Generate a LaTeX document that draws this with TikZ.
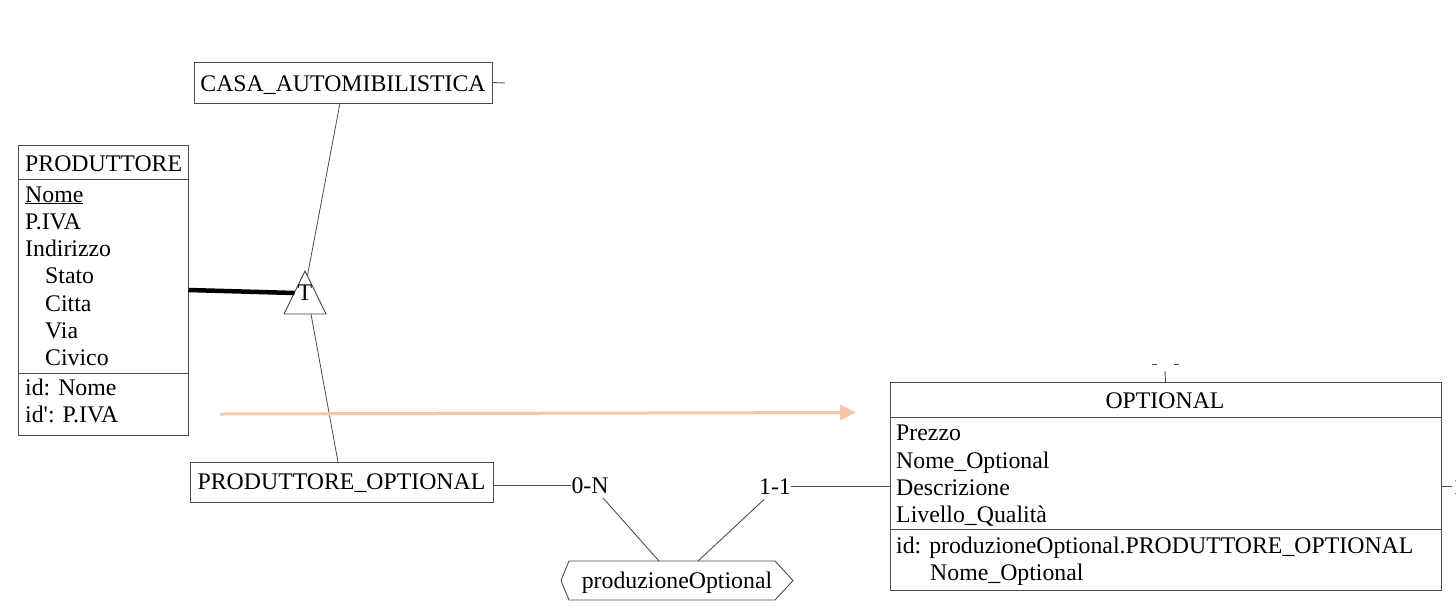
\documentclass[tikz,border=0pt]{standalone}
\usepackage{fontspec}
\setmainfont{Liberation Serif}
\usetikzlibrary{arrows.meta,calc}
\definecolor{salmon}{RGB}{248,196,170}
\newcommand{\straightq}{{\addfontfeatures{Ligatures=TeXOff}'}}
\begin{document}
\begin{tikzpicture}[x=1pt,y=-1pt,
  font=\fontsize{23.8}{27.3}\selectfont,
  box/.style={draw=black!70, line width=0.9pt, inner sep=0pt, outer sep=0pt, anchor=north west},
  ln/.style={draw=black!70, line width=0.9pt},
  lbl/.style={anchor=base west, inner sep=0pt},
  ctr/.style={anchor=base, inner sep=0pt}]
\useasboundingbox (0,0) rectangle (1456,614);

% CASA_AUTOMIBILISTICA
\node[box, minimum width=298pt, minimum height=41pt] (casa) at (194,62) {};
\node[ctr] (casaT) at (343,91) {CASA\_AUTOMIBILISTICA};
\coordinate (casaE) at (505,83);
\draw[ln] (casa.east) -- (casaE);

% PRODUTTORE
\node[box, minimum width=170pt, minimum height=34pt] (prodT) at (18.5,145) {};
\node[box, minimum width=170pt, minimum height=194pt] (prodA) at (18.5,179) {};
\node[box, minimum width=170pt, minimum height=62pt] (prodI) at (18.5,373) {};
\node[lbl] (pt) at (25,171.5) {PRODUTTORE};
\node[lbl] (pa1) at (25,202) {\underline{Nome}};
\node[lbl] (pa2) at (25,229.3) {P.IVA};
\node[lbl] (pa3) at (25,256.6) {Indirizzo};
\node[lbl] (pa4) at (45,283.9) {Stato};
\node[lbl] (pa5) at (45,311.2) {Citta};
\node[lbl] (pa6) at (45,338.5) {Via};
\node[lbl] (pa7) at (45,365.8) {Civico};
\node[lbl] (pi1) at (25,395.5) {id: Nome};
\node[lbl] (pi2) at (25,422.8) {id\straightq: P.IVA};

% PRODUTTORE_OPTIONAL
\node[box, minimum width=303pt, minimum height=40pt] (po) at (190,462) {};
\node[ctr] (poT) at (341.5,489) {PRODUTTORE\_OPTIONAL};

% ISA lines and triangle
\coordinate (tA) at (305,271);
\coordinate (tL) at (284,314);
\coordinate (tR) at (326,314);
\coordinate (tIn) at (307,278);
\coordinate (tB) at (311,314);
\draw[ln, line width=0.8pt] (340,103) -- (tIn);
\draw[ln, line width=0.8pt] (tB) -- (338,462);
\draw[draw=black!75, line width=0.9pt, fill=white] (tA) -- (tL) -- (tR) -- cycle;
\node[ctr] (tri) at (305,300) {T};
\coordinate (thL) at (188.5,290);
\coordinate (thR) at (294.5,293);
\draw[black, line width=4.5pt] (thL) -- (thR);

% salmon arrow
\coordinate (arS) at (220,414);
\coordinate (arE) at (856,412.5);
\draw[salmon, line width=3pt, -{Triangle[length=16pt,width=15pt]}] (arS) -- (arE);

% OPTIONAL
\node[box, minimum width=551pt, minimum height=35pt] (optT) at (890,382.5) {};
\node[box, minimum width=551pt, minimum height=111.5pt] (optA) at (890,417.5) {};
\node[box, minimum width=551pt, minimum height=61.5pt] (optI) at (890,529) {};
\node[ctr] (ot) at (1165,408) {OPTIONAL};
\node[lbl] (oa1) at (896,440.8) {Prezzo};
\node[lbl] (oa2) at (896,468) {Nome\_Optional};
\node[lbl] (oa3) at (896,495.2) {Descrizione};
\node[lbl] (oa4) at (896,522.4) {Livello\_Qualità};
\node[lbl] (oi1) at (896,553) {id: produzioneOptional.PRODUTTORE\_OPTIONAL};
\node[lbl] (oi2) at (930,580.3) {Nome\_Optional};

% top tick and clipped marks
\coordinate (topE) at (1165,371);
\draw[ln] (optT.north) -- (topE);
\draw[ln] (1152,364) -- (1157,364);
\draw[ln] (1174,364) -- (1179,364);

% right stub
\coordinate (rE) at (1452,486);
\draw[ln] (optA.east |- rE) -- (rE);
\node[anchor=base west, inner sep=0pt] (rl) at (1453,494) {1-1};

% relationship
\node[ctr] (c0N) at (590,493) {0-N};
\node[ctr] (c11) at (775,494.5) {1-1};
\draw[ln] (po.east |- c0N.west) -- (c0N.west);
\draw[ln] (c11.east) -- (c11.east -| optA.west);
\coordinate (h1) at (659,561);
\coordinate (h2) at (698,561);
\coordinate (s1) at (603,498);
\coordinate (s2) at (764,499.5);
\draw[ln] (s1) -- (h1);
\draw[ln] (s2) -- (h2);
\draw[draw=black!70, line width=0.9pt] (561,580.5) -- (569,561) -- (775,561) -- (793,580.5) -- (775,600) -- (569,600) -- cycle;
\node[ctr] (hx) at (677,588) {produzioneOptional};
\end{tikzpicture}
\end{document}
